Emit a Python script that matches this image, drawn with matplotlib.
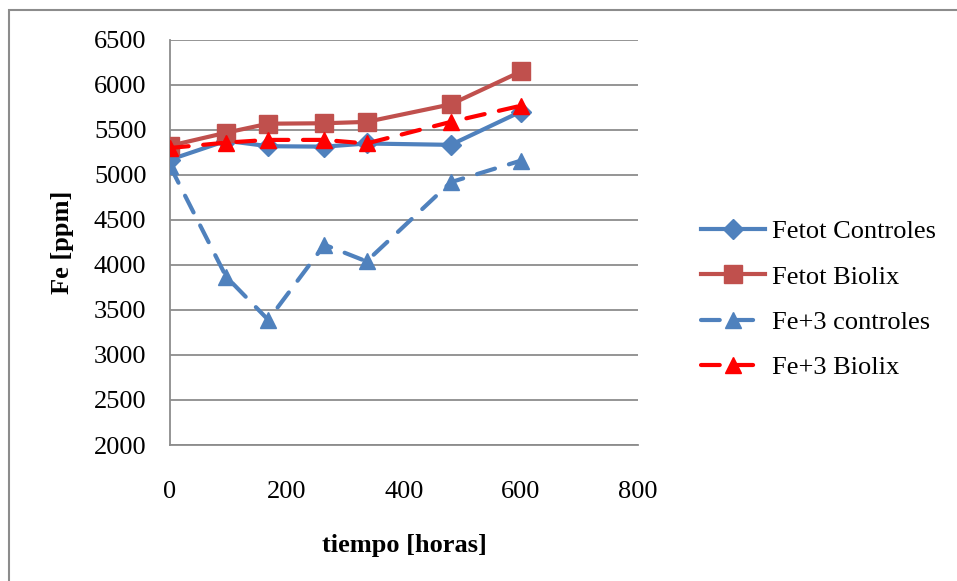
import matplotlib
matplotlib.use("Agg")
import matplotlib.pyplot as plt
from matplotlib.patches import Rectangle

tiempo = [0, 96, 168, 264, 336, 480, 600]
fetot_controles = [5170, 5380, 5320, 5315, 5350, 5335, 5705]
fetot_biolix = [5325, 5470, 5570, 5575, 5590, 5785, 6150]
fe3_controles = [5100, 3870, 3390, 4225, 4040, 4920, 5160]
fe3_biolix = [5300, 5360, 5390, 5390, 5350, 5590, 5770]

labels = ["Fetot Controles", "Fetot Biolix", "Fe+3 controles", "Fe+3 Biolix"]
yticks = [2000, 2500, 3000, 3500, 4000, 4500, 5000, 5500, 6000, 6500]
xticks = [0, 200, 400, 600, 800]

plt.rcParams['font.family'] = ['Liberation Serif', 'DejaVu Serif']
FS = 19

fig = plt.figure(figsize=(9.57, 5.81), dpi=100)
fig.patches.append(Rectangle((9/957, -0.05), 1.2, 1 - 10/581 + 0.05,
                             transform=fig.transFigure, fill=False,
                             edgecolor='#8c8c8c', linewidth=1.5))
ax = fig.add_axes([170/957, 1 - 445/581, (638 - 170)/957, (445 - 40)/581])

blue = '#4F81BD'
brown = '#C0504D'
red = '#FF0000'
lw = 3.0

ax.plot(tiempo, fetot_controles, color=blue, lw=lw, marker='D', ms=10,
        label=labels[0], zorder=3)
ax.plot(tiempo, fetot_biolix, color=brown, lw=lw, marker='s', ms=12.5,
        label=labels[1], zorder=3)
ax.plot(tiempo, fe3_controles, color=blue, lw=lw, marker='^', ms=12,
        ls=(0, (4.5, 3.5)), dash_capstyle='round', label=labels[2], zorder=3)
ax.plot(tiempo, fe3_biolix, color=red, lw=lw, marker='^', ms=12,
        ls=(0, (4.5, 3.5)), dash_capstyle='round', label=labels[3], zorder=4)

ax.set_xlim(0, 800)
ax.set_ylim(2000, 6500)
ax.set_xticks(xticks)
ax.set_yticks(yticks)
ax.grid(axis='y', color='#8c8c8c', lw=1.3)
ax.set_axisbelow(True)
for s in ['top', 'right']:
    ax.spines[s].set_visible(False)
for s in ['left', 'bottom']:
    ax.spines[s].set_color('#8c8c8c')
    ax.spines[s].set_linewidth(1.3)
ax.tick_params(axis='both', length=0, labelsize=FS)
ax.tick_params(axis='y', pad=17)
ax.tick_params(axis='x', pad=26)

ax.set_xlabel('tiempo [horas]', fontsize=FS, fontweight='bold', labelpad=22)
ax.set_ylabel('Fe [ppm]', fontsize=FS, fontweight='bold', labelpad=14)

leg = fig.legend(loc='upper left', bbox_to_anchor=(677/957, 1 - 196/581),
                 frameon=False, fontsize=FS, numpoints=1, handlelength=2.45,
                 labelspacing=0.83, handletextpad=0.25)

fig.savefig('out.png', dpi=100)
